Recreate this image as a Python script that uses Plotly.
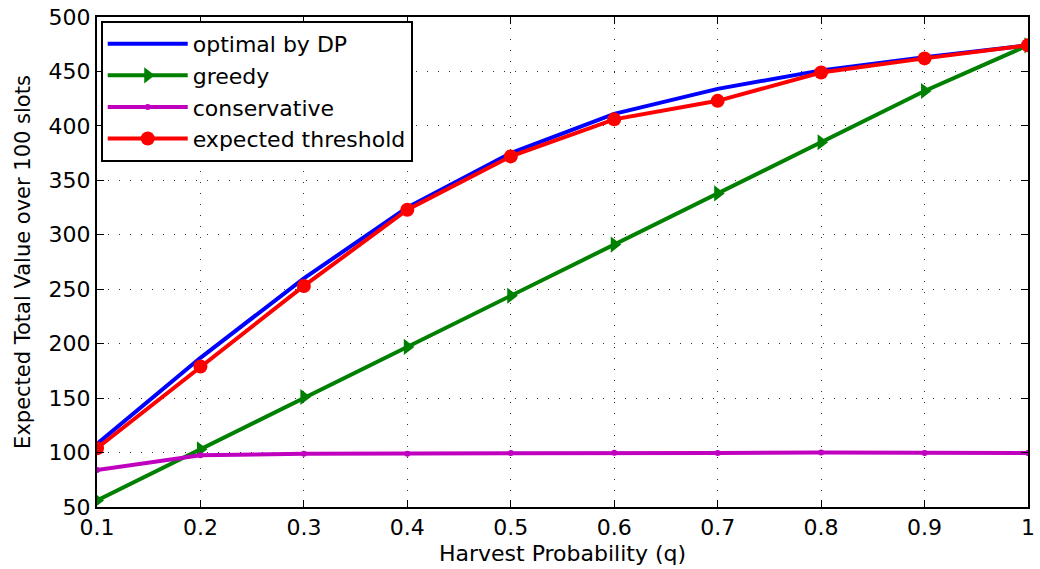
import plotly.graph_objects as go

q = [0.1, 0.2, 0.3, 0.4, 0.5, 0.6, 0.7, 0.8, 0.9, 1.0]
optimal_dp = [108, 187, 260, 325, 375, 411, 434, 451, 463, 474]
greedy = [56, 103, 151, 197, 244, 291, 338, 385, 432, 474]
conservative = [84, 97.5, 99, 99, 99.5, 99.8, 99.6, 100, 99.7, 99.5]
expected_threshold = [104, 179, 253, 323, 372, 406, 423, 449, 462, 474]

x_ticks = [0.1, 0.2, 0.3, 0.4, 0.5, 0.6, 0.7, 0.8, 0.9, 1.0]
x_labels = ["0.1", "0.2", "0.3", "0.4", "0.5", "0.6", "0.7", "0.8", "0.9", "1"]
y_ticks = [50, 100, 150, 200, 250, 300, 350, 400, 450, 500]

FONT = "DejaVu Sans, Liberation Sans, Arial, sans-serif"

fig = go.Figure()
fig.add_trace(go.Scatter(x=q, y=optimal_dp, mode="lines", name="optimal by DP",
                         line=dict(color="#0000ff", width=4)))
fig.add_trace(go.Scatter(x=q, y=greedy, mode="lines+markers", name="greedy",
                         line=dict(color="#008000", width=4),
                         marker=dict(symbol="triangle-right", size=14, color="#008000")))
fig.add_trace(go.Scatter(x=q, y=conservative, mode="lines+markers", name="conservative",
                         line=dict(color="#bf00bf", width=4),
                         marker=dict(symbol="circle", size=6, color="#bf00bf")))
fig.add_trace(go.Scatter(x=q, y=expected_threshold, mode="lines+markers", name="expected threshold",
                         line=dict(color="#ff0000", width=4),
                         marker=dict(symbol="circle", size=14, color="#ff0000")))

axis_common = dict(
    showline=True, linecolor="black", linewidth=2, mirror="ticks",
    ticks="inside", ticklen=7, tickcolor="black", tickwidth=1,
    showgrid=True, gridcolor="rgba(30,30,30,0.9)", griddash="1px,10px", gridwidth=1,
    zeroline=False,
    tickfont=dict(family=FONT, size=22, color="black"),
)

fig.update_xaxes(range=[0.1, 1.0], tickvals=x_ticks, ticktext=x_labels,
                 title_text="Harvest Probability (q)", title_standoff=6,
                 title_font=dict(family=FONT, size=22, color="black"), **axis_common)
fig.update_yaxes(range=[50, 500], tickvals=y_ticks,
                 title_text="Expected Total Value over 100 slots", title_standoff=12,
                 title_font=dict(family=FONT, size=21, color="black"), **axis_common)

fig.update_layout(
    width=1040, height=569,
    margin=dict(l=97, r=5, t=16, b=62),
    paper_bgcolor="white", plot_bgcolor="white",
    showlegend=True,
    legend=dict(x=0.004, y=0.992, xanchor="left", yanchor="top",
                bgcolor="white", bordercolor="black", borderwidth=2,
                font=dict(family=FONT, size=22, color="black"),
                itemwidth=80, tracegroupgap=0),
)

fig.write_html("out.html")
